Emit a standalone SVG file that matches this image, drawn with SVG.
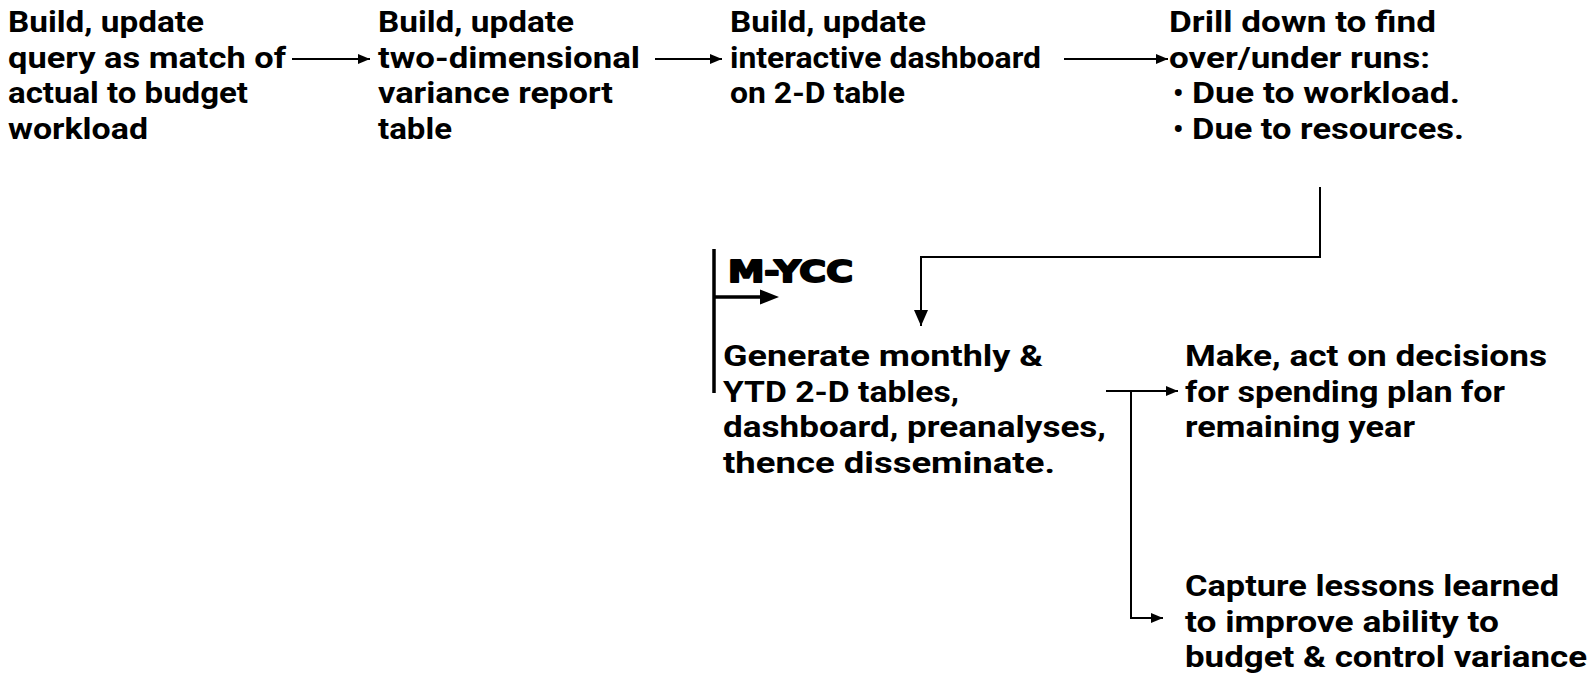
<svg xmlns="http://www.w3.org/2000/svg" width="1595" height="683" viewBox="0 0 1595 683">
  <style>
    .t { font-family: Roboto, "Open Sans", "Liberation Sans", sans-serif; font-weight: 700; font-size: 29px; fill: #000; }
    .tag { font-family: "DejaVu Sans", "Liberation Sans", sans-serif; font-weight: 700; font-size: 30px; fill: #000; stroke: #000; stroke-width: 2; stroke-linejoin: round; }
    .ln { fill: none; stroke: #000; stroke-width: 2; }
    .thick { fill: none; stroke: #000; stroke-width: 3.5; }
  </style>
  <defs>
    <marker id="head" viewBox="0 0 12 10" refX="12" refY="5" markerWidth="12" markerHeight="10" markerUnits="userSpaceOnUse" orient="auto">
      <path d="M0,0 L12,5 L0,10 Z" fill="#000"/>
    </marker>
    <marker id="headBig" viewBox="0 0 16 14" refX="16" refY="7" markerWidth="16" markerHeight="14" markerUnits="userSpaceOnUse" orient="auto">
      <path d="M0,0 L16,7 L0,14 Z" fill="#000"/>
    </marker>
  </defs>

  <g id="connectors">
    <line class="ln" x1="292" y1="59" x2="370" y2="59" marker-end="url(#head)"/>
    <line class="ln" x1="655" y1="59" x2="722" y2="59" marker-end="url(#head)"/>
    <line class="ln" x1="1064" y1="59" x2="1168" y2="59" marker-end="url(#head)"/>
    <path class="ln" d="M1320,187 V257 H921 V326" marker-end="url(#headBig)"/>
    <line class="ln" x1="1106" y1="391" x2="1178" y2="391" marker-end="url(#head)"/>
    <path class="ln" d="M1131,391 V618 H1163" marker-end="url(#head)"/>
  </g>

  <g id="query">
    <text class="t" x="8" y="32" textLength="196" lengthAdjust="spacingAndGlyphs">Build, update</text>
    <text class="t" x="8" y="67.5" textLength="278" lengthAdjust="spacingAndGlyphs">query as match of</text>
    <text class="t" x="8" y="103" textLength="240" lengthAdjust="spacingAndGlyphs">actual to budget</text>
    <text class="t" x="8" y="138.5" textLength="140" lengthAdjust="spacingAndGlyphs">workload</text>
  </g>

  <g id="variance-table">
    <text class="t" x="378" y="32" textLength="196" lengthAdjust="spacingAndGlyphs">Build, update</text>
    <text class="t" x="378" y="67.5" textLength="262" lengthAdjust="spacingAndGlyphs">two-dimensional</text>
    <text class="t" x="378" y="103" textLength="235" lengthAdjust="spacingAndGlyphs">variance report</text>
    <text class="t" x="378" y="138.5" textLength="74" lengthAdjust="spacingAndGlyphs">table</text>
  </g>

  <g id="dashboard">
    <text class="t" x="730" y="32" textLength="196" lengthAdjust="spacingAndGlyphs">Build, update</text>
    <text class="t" x="730" y="67.5" textLength="311" lengthAdjust="spacingAndGlyphs">interactive dashboard</text>
    <text class="t" x="730" y="103" textLength="175" lengthAdjust="spacingAndGlyphs">on 2-D table</text>
  </g>

  <g id="drill-down">
    <text class="t" x="1169" y="32" textLength="267" lengthAdjust="spacingAndGlyphs">Drill down to find</text>
    <text class="t" x="1169" y="67.5" textLength="261" lengthAdjust="spacingAndGlyphs">over/under runs:</text>
    <text class="t" x="1173" y="103">•</text>
    <text class="t" x="1192" y="103" textLength="268" lengthAdjust="spacingAndGlyphs">Due to workload.</text>
    <text class="t" x="1173" y="138.5">•</text>
    <text class="t" x="1192" y="138.5" textLength="272" lengthAdjust="spacingAndGlyphs">Due to resources.</text>
  </g>

  <g id="myc-marker">
    <line class="thick" x1="714" y1="249" x2="714" y2="393"/>
    <text class="tag" x="728" y="282" textLength="125" lengthAdjust="spacingAndGlyphs">M-YCC</text>
    <line class="thick" x1="714" y1="297" x2="762" y2="297"/>
    <path d="M760,289.5 L779,297 L760,304.5 Z" fill="#000"/>
  </g>

  <g id="generate">
    <text class="t" x="723" y="366" textLength="320" lengthAdjust="spacingAndGlyphs">Generate monthly &amp;</text>
    <text class="t" x="723" y="401.5" textLength="236" lengthAdjust="spacingAndGlyphs">YTD 2-D tables,</text>
    <text class="t" x="723" y="437" textLength="383" lengthAdjust="spacingAndGlyphs">dashboard, preanalyses,</text>
    <text class="t" x="723" y="472.5" textLength="332" lengthAdjust="spacingAndGlyphs">thence disseminate.</text>
  </g>

  <g id="decisions">
    <text class="t" x="1185" y="366" textLength="362" lengthAdjust="spacingAndGlyphs">Make, act on decisions</text>
    <text class="t" x="1185" y="401.5" textLength="320" lengthAdjust="spacingAndGlyphs">for spending plan for</text>
    <text class="t" x="1185" y="437" textLength="230" lengthAdjust="spacingAndGlyphs">remaining year</text>
  </g>

  <g id="lessons">
    <text class="t" x="1185" y="596" textLength="374" lengthAdjust="spacingAndGlyphs">Capture lessons learned</text>
    <text class="t" x="1185" y="631.5" textLength="314" lengthAdjust="spacingAndGlyphs">to improve ability to</text>
    <text class="t" x="1185" y="667" textLength="402" lengthAdjust="spacingAndGlyphs">budget &amp; control variance</text>
  </g>
</svg>
